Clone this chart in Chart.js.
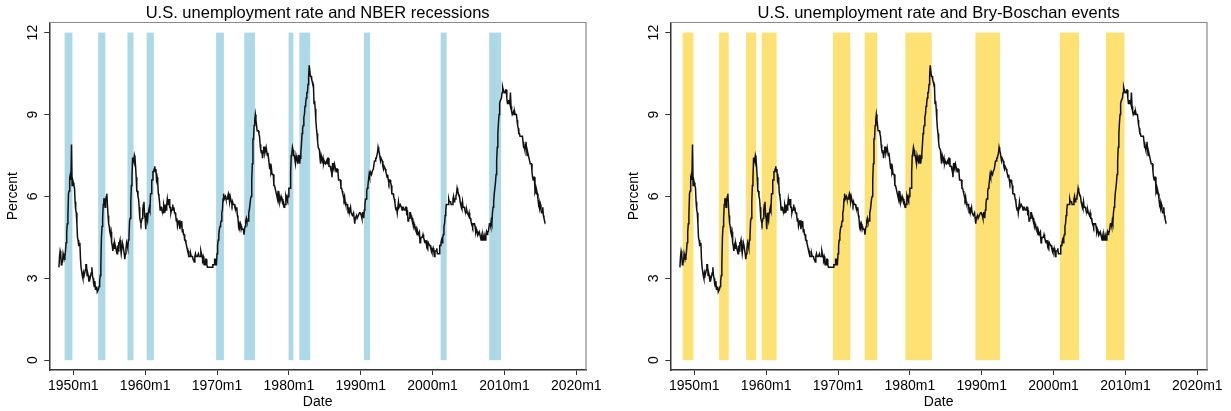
<!DOCTYPE html>
<html>
<head>
<meta charset="utf-8">
<script src="https://cdn.jsdelivr.net/npm/chart.js@4.4.1/dist/chart.umd.min.js"></script>
<style>
  html, body { margin: 0; padding: 0; background: #fff; overflow: hidden; }
  .panel { position: absolute; top: 0; width: 610px; height: 411px; }
  #left { left: 0; }
  #right { left: 621px; }
</style>
</head>
<body>
<div class="panel" id="left"><canvas id="chart-nber" width="610" height="411"></canvas></div>
<div class="panel" id="right"><canvas id="chart-bb" width="610" height="411"></canvas></div>
<script>
// monthly U.S. unemployment rate (percent), 1948m1 - 2015m10
const rate1948 = [
  3.4, 3.8, 4.0, 3.9, 3.5, 3.6, 3.6, 3.9, 3.8, 3.7, 3.8, 4.0,
  4.3, 4.7, 5.0, 5.3, 6.1, 6.2, 6.7, 6.8, 6.6, 7.9, 6.4, 6.6
];
const rate1950s = [
  6.5, 6.4, 6.3, 5.8, 5.5, 5.4, 5.0, 4.5, 4.4, 4.2, 4.2, 4.3,
  3.7, 3.4, 3.4, 3.1, 3.0, 3.2, 3.1, 3.1, 3.3, 3.5, 3.5, 3.1,
  3.2, 3.1, 2.9, 2.9, 3.0, 3.0, 3.2, 3.4, 3.1, 3.0, 2.8, 2.7,
  2.9, 2.6, 2.6, 2.7, 2.5, 2.5, 2.6, 2.7, 2.9, 3.1, 3.5, 4.5,
  4.9, 5.2, 5.7, 5.9, 5.9, 5.6, 5.8, 6.0, 6.1, 5.7, 5.3, 5.0,
  4.9, 4.7, 4.6, 4.7, 4.3, 4.2, 4.0, 4.2, 4.1, 4.3, 4.2, 4.2,
  4.0, 3.9, 4.2, 4.0, 4.3, 4.3, 4.4, 4.1, 3.9, 3.9, 4.3, 4.2,
  4.2, 3.9, 3.7, 3.9, 4.1, 4.3, 4.2, 4.1, 4.4, 4.5, 5.1, 5.2,
  5.8, 6.4, 6.7, 7.4, 7.4, 7.3, 7.5, 7.4, 7.1, 6.7, 6.2, 6.2,
  6.0, 5.9, 5.6, 5.2, 5.1, 5.0, 5.1, 5.2, 5.5, 5.7, 5.8, 5.3
];
const rate1960s = [
  5.2, 4.8, 5.4, 5.2, 5.1, 5.4, 5.5, 5.6, 5.5, 6.1, 6.1, 6.6,
  6.6, 6.9, 6.9, 7.0, 7.1, 6.9, 7.0, 6.6, 6.7, 6.5, 6.1, 6.0,
  5.8, 5.5, 5.6, 5.6, 5.5, 5.5, 5.4, 5.7, 5.6, 5.4, 5.7, 5.5,
  5.7, 5.9, 5.7, 5.7, 5.9, 5.6, 5.6, 5.4, 5.5, 5.5, 5.7, 5.5,
  5.6, 5.4, 5.4, 5.3, 5.1, 5.2, 4.9, 5.0, 5.1, 5.1, 4.8, 5.0,
  4.9, 5.1, 4.7, 4.8, 4.6, 4.6, 4.4, 4.4, 4.3, 4.2, 4.1, 4.0,
  4.0, 3.8, 3.8, 3.8, 3.9, 3.8, 3.8, 3.8, 3.7, 3.7, 3.6, 3.8,
  3.9, 3.8, 3.8, 3.8, 3.8, 3.9, 3.8, 3.8, 3.8, 4.0, 3.9, 3.8,
  3.7, 3.8, 3.7, 3.5, 3.5, 3.7, 3.7, 3.5, 3.4, 3.4, 3.4, 3.4,
  3.4, 3.4, 3.4, 3.4, 3.4, 3.5, 3.5, 3.5, 3.7, 3.7, 3.5, 3.5
];
const rate1970s = [
  3.9, 4.2, 4.4, 4.6, 4.8, 4.9, 5.0, 5.1, 5.4, 5.5, 5.9, 6.1,
  5.9, 5.9, 6.0, 5.9, 5.9, 5.9, 6.0, 6.1, 6.0, 5.8, 6.0, 6.0,
  5.8, 5.7, 5.8, 5.7, 5.7, 5.7, 5.6, 5.6, 5.5, 5.6, 5.3, 5.2,
  4.9, 5.0, 4.9, 5.0, 4.9, 4.9, 4.8, 4.8, 4.8, 4.6, 4.8, 4.9,
  5.1, 5.2, 5.1, 5.1, 5.1, 5.4, 5.5, 5.5, 5.9, 6.0, 6.6, 7.2,
  8.1, 8.1, 8.6, 8.8, 9.0, 8.8, 8.6, 8.4, 8.4, 8.4, 8.3, 8.2,
  7.9, 7.7, 7.6, 7.7, 7.4, 7.6, 7.8, 7.8, 7.6, 7.7, 7.8, 7.8,
  7.5, 7.6, 7.4, 7.2, 7.0, 7.2, 6.9, 7.0, 6.8, 6.8, 6.8, 6.4,
  6.4, 6.3, 6.3, 6.1, 6.0, 5.9, 6.2, 5.9, 6.0, 5.8, 5.9, 6.0,
  5.9, 5.9, 5.8, 5.8, 5.6, 5.7, 5.7, 6.0, 5.9, 6.0, 5.9, 6.0
];
const rate1980s = [
  6.3, 6.3, 6.3, 6.9, 7.5, 7.6, 7.8, 7.7, 7.5, 7.5, 7.5, 7.2,
  7.5, 7.4, 7.4, 7.2, 7.5, 7.5, 7.2, 7.4, 7.6, 7.9, 8.3, 8.5,
  8.6, 8.9, 9.0, 9.3, 9.4, 9.6, 9.8, 9.8, 10.1, 10.4, 10.8, 10.8,
  10.4, 10.4, 10.3, 10.2, 10.1, 10.1, 9.4, 9.5, 9.2, 8.8, 8.5, 8.3,
  8.0, 7.8, 7.8, 7.7, 7.4, 7.2, 7.5, 7.5, 7.3, 7.4, 7.2, 7.3,
  7.3, 7.2, 7.2, 7.3, 7.2, 7.4, 7.4, 7.1, 7.1, 7.1, 7.0, 7.0,
  6.7, 7.2, 7.2, 7.1, 7.2, 7.2, 7.0, 6.9, 7.0, 7.0, 6.9, 6.6,
  6.6, 6.6, 6.6, 6.3, 6.3, 6.2, 6.1, 6.0, 5.9, 6.0, 5.8, 5.7,
  5.7, 5.7, 5.7, 5.4, 5.6, 5.4, 5.4, 5.6, 5.4, 5.4, 5.3, 5.3,
  5.4, 5.2, 5.0, 5.2, 5.2, 5.3, 5.2, 5.2, 5.3, 5.3, 5.4, 5.4
];
const rate1990s = [
  5.4, 5.3, 5.2, 5.4, 5.4, 5.2, 5.5, 5.7, 5.9, 5.9, 6.2, 6.3,
  6.4, 6.6, 6.8, 6.7, 6.9, 6.9, 6.8, 6.9, 6.9, 7.0, 7.0, 7.3,
  7.3, 7.4, 7.4, 7.4, 7.6, 7.8, 7.7, 7.6, 7.6, 7.3, 7.4, 7.4,
  7.3, 7.1, 7.0, 7.1, 7.1, 7.0, 6.9, 6.8, 6.7, 6.8, 6.6, 6.5,
  6.6, 6.6, 6.5, 6.4, 6.1, 6.1, 6.1, 6.0, 5.9, 5.8, 5.6, 5.5,
  5.6, 5.4, 5.4, 5.8, 5.6, 5.6, 5.7, 5.7, 5.6, 5.5, 5.6, 5.6,
  5.6, 5.5, 5.5, 5.6, 5.6, 5.3, 5.5, 5.1, 5.2, 5.2, 5.4, 5.4,
  5.3, 5.2, 5.2, 5.1, 4.9, 5.0, 4.9, 4.8, 4.9, 4.7, 4.6, 4.7,
  4.6, 4.6, 4.7, 4.3, 4.4, 4.5, 4.5, 4.5, 4.6, 4.5, 4.4, 4.4,
  4.3, 4.4, 4.2, 4.3, 4.2, 4.3, 4.3, 4.2, 4.2, 4.1, 4.1, 4.0
];
const rate2000s = [
  4.0, 4.1, 4.0, 3.8, 4.0, 4.0, 4.0, 4.1, 3.9, 3.9, 3.9, 3.9,
  4.2, 4.2, 4.3, 4.4, 4.3, 4.5, 4.6, 4.9, 5.0, 5.3, 5.5, 5.7,
  5.7, 5.7, 5.7, 5.9, 5.8, 5.8, 5.8, 5.7, 5.7, 5.7, 5.9, 6.0,
  5.8, 5.9, 5.9, 6.0, 6.1, 6.3, 6.2, 6.1, 6.1, 6.0, 5.8, 5.7,
  5.7, 5.6, 5.8, 5.6, 5.6, 5.6, 5.5, 5.4, 5.4, 5.5, 5.4, 5.4,
  5.3, 5.4, 5.2, 5.2, 5.1, 5.0, 5.0, 4.9, 5.0, 5.0, 5.0, 4.9,
  4.7, 4.8, 4.7, 4.7, 4.6, 4.6, 4.7, 4.7, 4.5, 4.4, 4.5, 4.4,
  4.6, 4.5, 4.4, 4.5, 4.4, 4.6, 4.7, 4.6, 4.7, 4.7, 4.7, 5.0,
  5.0, 4.9, 5.1, 5.0, 5.4, 5.6, 5.8, 6.1, 6.1, 6.5, 6.8, 7.3,
  7.8, 8.3, 8.7, 9.0, 9.4, 9.5, 9.5, 9.6, 9.8, 10.0, 9.9, 9.9
];
const rate2010s = [
  9.8, 9.8, 9.9, 9.9, 9.6, 9.4, 9.4, 9.5, 9.5, 9.4, 9.8, 9.3,
  9.1, 9.0, 9.0, 9.1, 9.0, 9.1, 9.0, 9.0, 9.0, 8.8, 8.6, 8.5,
  8.3, 8.3, 8.2, 8.2, 8.2, 8.2, 8.2, 8.0, 7.8, 7.8, 7.7, 7.9,
  8.0, 7.7, 7.5, 7.6, 7.5, 7.5, 7.3, 7.2, 7.2, 7.2, 6.9, 6.7,
  6.6, 6.7, 6.7, 6.2, 6.3, 6.1, 6.2, 6.1, 5.9, 5.7, 5.8, 5.6,
  5.7, 5.5, 5.4, 5.4, 5.6, 5.3, 5.2, 5.1, 5.0, 5.0
];

const xTickYears = [1950, 1960, 1970, 1980, 1990, 2000, 2010, 2020];
const yTicks = [0, 3, 6, 9, 12];

// NBER recessions, peak and trough months
const nberStart = ['1948m11', '1953m7', '1957m8', '1960m4', '1969m12', '1973m11', '1980m1', '1981m7', '1990m7', '2001m3', '2007m12'];
const nberEnd = ['1949m10', '1954m5', '1958m4', '1961m2', '1970m11', '1975m3', '1980m7', '1982m11', '1991m3', '2001m11', '2009m6'];

// Bry-Boschan events on the unemployment rate
const bbStart = ['1948m6', '1953m7', '1957m4', '1959m6', '1969m5', '1973m10', '1979m6', '1989m3', '2000m12', '2007m5'];
const bbEnd = ['1949m10', '1954m9', '1958m7', '1961m5', '1971m8', '1975m5', '1982m12', '1992m6', '2003m6', '2009m10'];

const panelTitles = ['U.S. unemployment rate and NBER recessions', 'U.S. unemployment rate and Bry-Boschan events'];

const FONT = '"Liberation Sans", Arial, Helvetica, sans-serif';

function monthToYear(s) {
    const [y, m] = s.split('m').map(Number);
    return y + (m - 1) / 12;
}

const rates = [].concat(rate1948, rate1950s, rate1960s, rate1970s, rate1980s, rate1990s, rate2000s, rate2010s);
const seriesPoints = rates.map((v, i) => ({ x: 1948 + i / 12, y: v }));

function shadePlugin(starts, ends, color) {
    return {
        id: 'shade',
        beforeDatasetsDraw(chart) {
            const { ctx, scales: { x, y } } = chart;
            const yTop = y.getPixelForValue(12);
            const yBot = y.getPixelForValue(0);
            ctx.save();
            ctx.fillStyle = color;
            starts.forEach((s, i) => {
                const x0 = x.getPixelForValue(monthToYear(s) - 0.5 / 12);
                const x1 = x.getPixelForValue(monthToYear(ends[i]) + 1.5 / 12);
                ctx.fillRect(x0, yTop, x1 - x0, yBot - yTop);
            });
            ctx.restore();
        }
    };
}

function framePlugin(title) {
    return {
        id: 'frame',
        afterDraw(chart) {
            const { ctx, chartArea: a } = chart;
            ctx.save();
            ctx.strokeStyle = '#8a8a8a';
            ctx.lineWidth = 1.2;
            ctx.beginPath();
            ctx.moveTo(a.left, a.top);
            ctx.lineTo(a.right, a.top);
            ctx.lineTo(a.right, a.bottom);
            ctx.stroke();
            // title, centred over the plot region
            ctx.fillStyle = '#000';
            ctx.font = '16.5px ' + FONT;
            ctx.textAlign = 'center';
            ctx.textBaseline = 'middle';
            ctx.fillText(title, (a.left + a.right) / 2, 13);
            ctx.restore();
        }
    };
}

function makeChart(canvasId, title, starts, ends, color) {
    const font = { family: FONT, size: 14 };
    new Chart(document.getElementById(canvasId), {
        type: 'line',
        data: {
            datasets: [{
                data: seriesPoints,
                borderColor: '#111',
                borderWidth: 1.5,
                pointRadius: 0,
                tension: 0,
                fill: false
            }]
        },
        options: {
            responsive: false,
            animation: false,
            devicePixelRatio: 1,
            layout: { padding: { top: 22.5, right: 24, left: 0, bottom: 0 } },
            plugins: { legend: { display: false }, tooltip: { enabled: false } },
            scales: {
                x: {
                    type: 'linear',
                    min: 1946.66,
                    max: 2021.35,
                    afterBuildTicks: s => { s.ticks = xTickYears.map(v => ({ value: v })); },
                    afterFit: s => { s.height = 41; },
                    ticks: { callback: v => v + 'm1', font: font, color: '#000', padding: 3, maxRotation: 0, autoSkip: false },
                    grid: { drawOnChartArea: false, drawTicks: true, tickLength: 5, color: '#333', lineWidth: 1 },
                    border: { display: true, color: '#333', width: 1.5 },
                    title: { display: true, text: 'Date', font: font, color: '#000', padding: 0 }
                },
                y: {
                    type: 'linear',
                    min: -0.36,
                    max: 12.37,
                    afterBuildTicks: s => { s.ticks = yTicks.map(v => ({ value: v })); },
                    afterFit: s => { s.width = 49.3; },
                    ticks: { font: font, color: '#000', padding: 3, minRotation: 90, maxRotation: 90, crossAlign: 'center' },
                    grid: { drawOnChartArea: false, drawTicks: true, tickLength: 5, color: '#333', lineWidth: 1 },
                    border: { display: true, color: '#333', width: 1.5 },
                    title: { display: true, text: 'Percent', font: font, color: '#000', padding: { top: 5, bottom: 0 } }
                }
            }
        },
        plugins: [shadePlugin(starts, ends, color), framePlugin(title)]
    });
}

makeChart('chart-nber', panelTitles[0], nberStart, nberEnd, '#add8e6');
makeChart('chart-bb', panelTitles[1], bbStart, bbEnd, '#fee173');
</script>
</body>
</html>
